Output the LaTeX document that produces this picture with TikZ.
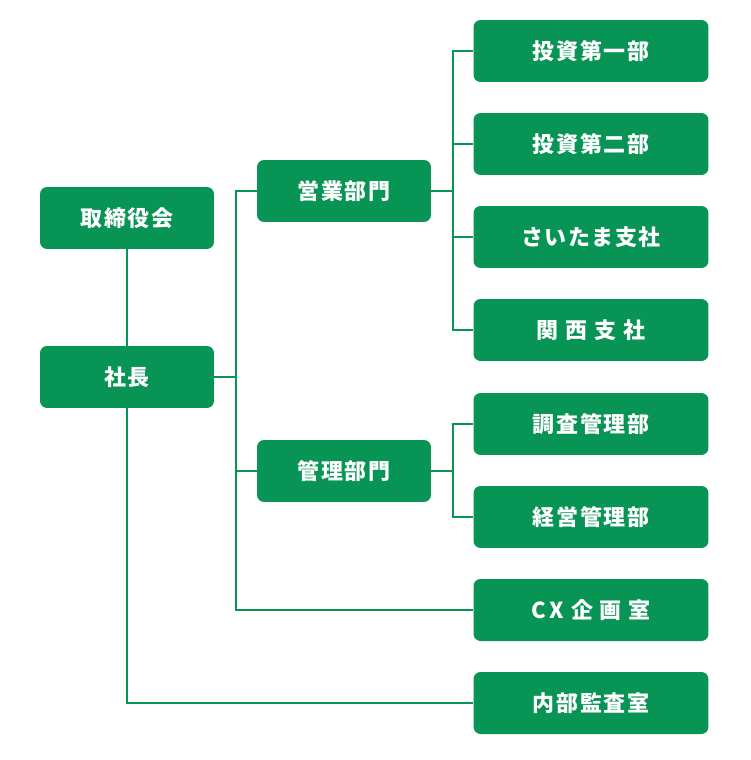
\documentclass[tikz,border=0pt]{standalone}
\usepackage{fontspec}
\newfontfamily\jpfont[LetterSpace=8]{Noto Sans CJK JP}
\definecolor{boxgreen}{HTML}{079455}
\tikzset{
  box/.style={fill=boxgreen, rounded corners=4pt, text=white, font=\jpfont\fontsize{12.5}{14}\selectfont\bfseries, inner sep=0pt},
  small/.style={box, minimum width=3.48cm, minimum height=1.24cm},
  wide/.style={box, minimum width=4.7cm, minimum height=1.24cm},
  link/.style={boxgreen, line width=0.8pt}
}
\begin{document}
\begin{tikzpicture}[x=0.02cm, y=-0.02cm]
  \useasboundingbox (0,0) rectangle (750,760);
  \node[small] (board) at (127,218) {取締役会};
  \node[small] (pres) at (127,377) {社長};
  \node[small] (sales) at (344,191) {営業部門};
  \node[small] (admin) at (344,471) {管理部門};
  \node[wide] (inv1) at (591,51) {投資第一部};
  \node[wide] (inv2) at (591,144) {投資第二部};
  \node[wide] (saitama) at (591,237) {さいたま支社};
  \node[wide] (kansai) at (591,330) {関\ 西\ 支\ 社};
  \node[wide] (survey) at (591,424) {調査管理部};
  \node[wide] (mgmt) at (591,517) {経営管理部};
  \node[wide] (cx) at (591,610) {C\,X\ 企\ 画\ 室};
  \node[wide] (audit) at (591,703) {内部監査室};
  \coordinate (hubA) at (236,377);
  \coordinate (hubS) at (453,191);
  \coordinate (hubM) at (453,471);
  % trunk lines
  \draw[link] (board) -- (pres);
  \draw[link] (pres) |- (audit);
  \draw[link] (pres.east) -- (hubA);
  \draw[link] (hubA) |- (sales);
  \draw[link] (hubA) |- (admin);
  \draw[link] (hubA) |- (cx);
  % departments
  \draw[link] (sales.east) -- (hubS);
  \foreach \n in {inv1,inv2,saitama,kansai}
    \draw[link] (hubS) |- (\n);
  \draw[link] (admin.east) -- (hubM);
  \foreach \n in {survey,mgmt}
    \draw[link] (hubM) |- (\n);
\end{tikzpicture}
\end{document}
